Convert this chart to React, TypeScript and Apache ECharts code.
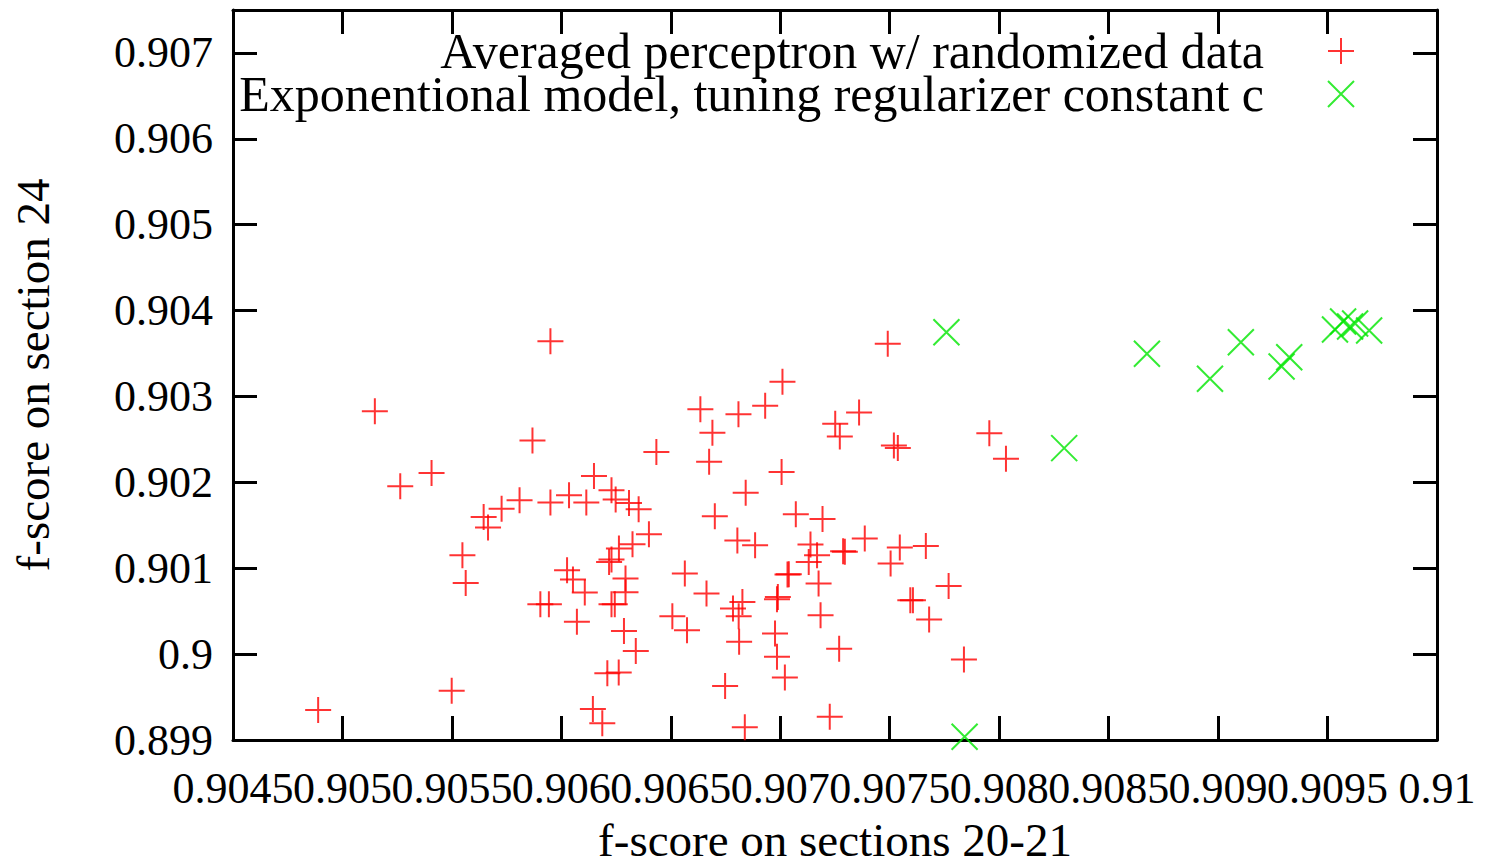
import React, { useEffect, useRef } from "react";
import * as echarts from "echarts";

const X_MIN = 0.9045;
const X_MAX = 0.91;
const X_STEP = 0.0005;
const Y_MIN = 0.899;
const Y_MAX = 0.9075;
const Y_STEP = 0.001;

const SERIES_NAMES = [
  "Averaged perceptron w/ randomized data",
  "Exponentional model, tuning regularizer constant c",
];
const X_TITLE = "f-score on sections 20-21";
const Y_TITLE = "f-score on section 24";

const perceptronPoints: [number, number][] = [
  [0.90595, 0.903643], [0.905148, 0.902829], [0.905868, 0.902488], [0.905264, 0.901954],
  [0.905407, 0.902108], [0.904889, 0.899349], [0.905499, 0.899573], [0.905645, 0.901597],
  [0.905665, 0.901473], [0.905727, 0.901694], [0.905809, 0.901791], [0.90595, 0.901764],
  [0.906035, 0.901849], [0.905548, 0.901151], [0.905563, 0.900829], [0.905904, 0.900581],
  [0.905943, 0.900581], [0.906026, 0.900977], [0.906053, 0.900869], [0.906107, 0.900718],
  [0.906071, 0.900376], [0.906149, 0.902073], [0.906229, 0.901907], [0.906248, 0.901799],
  [0.906114, 0.901764], [0.906309, 0.901759], [0.906353, 0.901686], [0.9064, 0.901395],
  [0.906325, 0.901279], [0.906263, 0.901229], [0.906229, 0.901101], [0.906218, 0.901073],
  [0.906293, 0.90088], [0.906293, 0.900721], [0.906229, 0.900581], [0.906244, 0.900581],
  [0.906286, 0.900268], [0.90634, 0.900035], [0.90621, 0.899776], [0.906262, 0.899787],
  [0.906144, 0.899361], [0.906187, 0.899194], [0.906434, 0.902352], [0.906564, 0.900938],
  [0.906507, 0.900442], [0.906574, 0.900279], [0.906635, 0.902852], [0.906809, 0.902794],
  [0.906931, 0.902892], [0.90701, 0.903171], [0.90669, 0.902578], [0.906675, 0.902241],
  [0.907006, 0.90212], [0.906842, 0.90188], [0.906701, 0.901605], [0.907071, 0.901628],
  [0.907193, 0.901573], [0.906804, 0.901322], [0.906885, 0.901267], [0.907138, 0.901276],
  [0.907168, 0.901151], [0.90713, 0.901073], [0.907287, 0.901198], [0.907295, 0.901192],
  [0.907386, 0.901345], [0.907033, 0.900927], [0.907039, 0.90093], [0.907175, 0.900822],
  [0.906663, 0.900706], [0.906827, 0.900608], [0.906784, 0.900531], [0.90681, 0.900442],
  [0.906989, 0.900666], [0.906985, 0.90064], [0.907184, 0.900454], [0.906976, 0.900241],
  [0.906812, 0.900143], [0.906985, 0.899969], [0.907021, 0.899729], [0.906748, 0.899628],
  [0.906838, 0.899148], [0.907269, 0.900062], [0.907226, 0.899271], [0.907251, 0.902683],
  [0.907272, 0.902535], [0.90736, 0.902814], [0.907491, 0.903613], [0.907519, 0.90243],
  [0.907537, 0.902401], [0.907546, 0.901241], [0.907665, 0.901259], [0.907504, 0.901055],
  [0.907594, 0.900628], [0.907606, 0.900628], [0.90768, 0.900404], [0.907769, 0.900794],
  [0.907839, 0.899938], [0.907955, 0.902573], [0.908031, 0.902276],
];

const exponentialPoints: [number, number][] = [
  [0.907759, 0.903748], [0.908297, 0.902399], [0.908675, 0.903497], [0.908963, 0.903206],
  [0.909104, 0.903631], [0.90929, 0.903349], [0.909325, 0.903457], [0.909534, 0.903779],
  [0.909571, 0.903872], [0.909603, 0.903814], [0.909626, 0.903849], [0.90969, 0.903768],
  [0.907842, 0.899038],
];

const PLUS = "path://M5,0L5,10M0,5L10,5";
const CROSS = "path://M0,0L10,10M0,10L10,0";
const RED = "#ff0000";
const GREEN = "#00e600";
const FONT = "Liberation Serif";

const fmt = (v: number) => String(+v.toFixed(5));
const isMin = (v: number) => Math.abs(v - X_MIN) < 1e-9;

export default function App() {
  const ref = useRef<HTMLDivElement>(null);
  useEffect(() => {
    if (!ref.current) return;
    const chart = echarts.init(ref.current, null, { renderer: "svg" });
    const axisLine = { show: true, lineStyle: { color: "#000", width: 3 } };
    const axisTick = { show: true, inside: true, length: 24, lineStyle: { color: "#000", width: 3 } };
    const label = { color: "#000", fontSize: 44, fontFamily: FONT };
    const nameStyle = { color: "#000", fontSize: 47, fontFamily: FONT, lineHeight: 40 };
    const legendBase = {
      orient: "vertical" as const,
      align: "right" as const,
      right: 126,
      itemWidth: 26,
      itemHeight: 26,
      itemGap: 64,
      textStyle: { color: "#000", fontSize: 50, fontFamily: FONT, lineHeight: 40, padding: [0, 59, 0, 0] },
      selectedMode: false,
    };
    chart.setOption({
      animation: false,
      backgroundColor: "#fff",
      textStyle: { fontFamily: FONT },
      grid: { left: 233, right: 49, top: 10, bottom: 121, containLabel: false, outerBoundsMode: "none" },
      legend: [
        {
          ...legendBase,
          top: 21,
          data: [{ name: SERIES_NAMES[0], icon: PLUS, itemStyle: { color: "transparent", borderColor: RED, borderWidth: 2 } }],
        },
        {
          ...legendBase,
          top: 64,
          data: [{ name: SERIES_NAMES[1], icon: CROSS, itemStyle: { color: "transparent", borderColor: GREEN, borderWidth: 2 } }],
        },
      ],
      xAxis: [
        {
          type: "value", position: "bottom", min: X_MIN, max: X_MAX, interval: X_STEP,
          axisLine, axisTick, splitLine: { show: false },
          axisLabel: { ...label, margin: 26, formatter: fmt, showMinLabel: false, showMaxLabel: true },
          name: X_TITLE, nameLocation: "middle", nameGap: 80,
          nameTextStyle: { ...nameStyle },
        },
        {
          type: "value", position: "top", min: X_MIN, max: X_MAX, interval: X_STEP,
          axisLine, axisTick, splitLine: { show: false }, axisLabel: { show: false },
        },
        {
          type: "value", position: "bottom", min: X_MIN, max: X_MAX, interval: X_STEP,
          axisLine: { show: false }, axisTick: { show: false }, splitLine: { show: false },
          axisLabel: {
            ...label, margin: 26, showMinLabel: true, showMaxLabel: false,
            formatter: (v: number) => (isMin(v) ? fmt(v) : ""),
          },
        },
      ],
      yAxis: [
        {
          type: "value", position: "left", min: Y_MIN, max: Y_MAX, interval: Y_STEP,
          axisLine, axisTick, splitLine: { show: false },
          axisLabel: { ...label, margin: 20, formatter: fmt, showMaxLabel: false },
          name: Y_TITLE, nameLocation: "middle", nameGap: 180,
          nameTextStyle: { ...nameStyle },
        },
        {
          type: "value", position: "right", min: Y_MIN, max: Y_MAX, interval: Y_STEP,
          axisLine, axisTick, splitLine: { show: false }, axisLabel: { show: false },
        },
      ],
      series: [
        {
          name: SERIES_NAMES[0], type: "scatter", data: perceptronPoints,
          symbol: PLUS, symbolSize: 26, silent: true,
          itemStyle: { color: "transparent", borderColor: RED, borderWidth: 2 },
        },
        {
          name: SERIES_NAMES[1], type: "scatter", data: exponentialPoints,
          symbol: CROSS, symbolSize: 26, silent: true,
          itemStyle: { color: "transparent", borderColor: GREEN, borderWidth: 2 },
        },
      ],
    });
    return () => chart.dispose();
  }, []);
  return (
    <div
      ref={ref}
      style={{ position: "fixed", left: 0, top: 0, width: 1486, height: 861, background: "#fff" }}
    />
  );
}
